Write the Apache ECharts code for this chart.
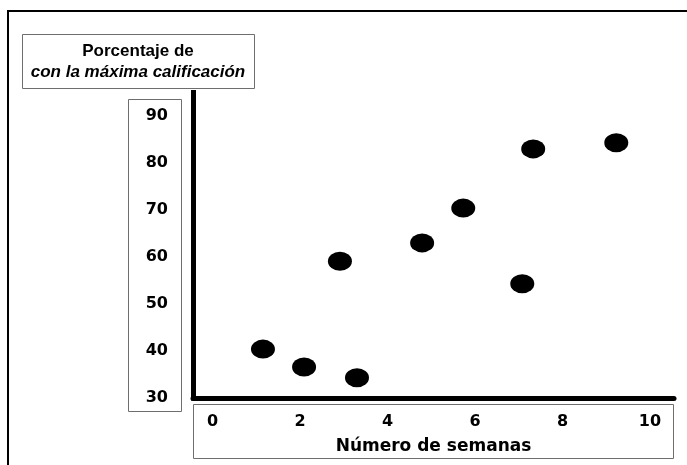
<!DOCTYPE html>
<html>
<head>
<meta charset="utf-8">
<script src="https://cdn.jsdelivr.net/npm/echarts@6/dist/echarts.min.js"></script>
<style>html,body{margin:0;padding:0;background:#fff}#c{width:687px;height:465px}</style>
</head>
<body>
<div id="c"></div>
<script>
// Data
const weeks = [1.15, 2.09, 3.30, 2.91, 4.79, 5.73, 7.08, 7.33, 9.23];
const percent = [40.4, 36.6, 34.3, 59.1, 63.0, 70.4, 54.3, 83.0, 84.3];
const xTicks = [0, 2, 4, 6, 8, 10];
const yTicks = [30, 40, 50, 60, 70, 80, 90];
const xTitle = 'Número de semanas';
const yTitle1 = 'Porcentaje de';
const yTitle2 = 'con la máxima calificación';

const chart = echarts.init(document.getElementById('c'), null, {renderer: 'canvas'});
const pts = weeks.map((w, i) => [w, percent[i]]);
const gray = '#6e6e6e';
chart.setOption({
  animation: false,
  backgroundColor: '#fff',
  grid: {left: 193, top: 92.5, width: 481, height: 305.5},
  xAxis: {
    type: 'value', min: -0.45, max: 10.55,
    axisLine: {show: true, onZero: false, lineStyle: {color: '#000', width: 5}},
    axisTick: {show: false},
    splitLine: {show: false},
    axisLabel: {customValues: xTicks, margin: 16, color: '#000', fontFamily: 'DejaVu Sans', fontWeight: 'bold', fontSize: 16},
    name: xTitle, nameLocation: 'middle', nameGap: 40,
    nameTextStyle: {color: '#000', fontFamily: 'DejaVu Sans', fontWeight: 'bold', fontSize: 17}
  },
  yAxis: {
    type: 'value', min: 30, max: 95,
    axisLine: {show: true, onZero: false, lineStyle: {color: '#000', width: 5, cap: 'square'}},
    axisTick: {show: false},
    splitLine: {show: false},
    axisLabel: {customValues: yTicks, margin: 25, color: '#000', fontFamily: 'DejaVu Sans', fontWeight: 'bold', fontSize: 16}
  },
  graphic: [
    {type: 'rect', shape: {x: 8, y: 11, width: 720, height: 500}, style: {fill: 'none', stroke: '#000', lineWidth: 2}, z: -1},
    {type: 'rect', shape: {x: 22.5, y: 34.5, width: 232, height: 54}, style: {fill: '#fff', stroke: gray, lineWidth: 1}},
    {type: 'rect', shape: {x: 128.5, y: 99.5, width: 53, height: 312}, style: {fill: 'none', stroke: gray, lineWidth: 1}},
    {type: 'rect', shape: {x: 193.5, y: 404.5, width: 480, height: 54}, style: {fill: 'none', stroke: gray, lineWidth: 1}},
    {type: 'text', x: 138, y: 41, style: {
      text: '{a|' + yTitle1 + '}\n{b|' + yTitle2 + '}', align: 'center',
      rich: {
        a: {fontFamily: 'Liberation Sans', fontWeight: 'bold', fontSize: 17, lineHeight: 21, fill: '#000', align: 'center'},
        b: {fontFamily: 'Liberation Sans', fontWeight: 'bold', fontStyle: 'italic', fontSize: 17, lineHeight: 21, fill: '#000', align: 'center'}
      }
    }}
  ],
  series: [{
    type: 'scatter', data: pts, symbol: 'circle', symbolSize: [24, 19],
    itemStyle: {color: '#000', opacity: 1}
  }]
});
</script>
</body>
</html>
